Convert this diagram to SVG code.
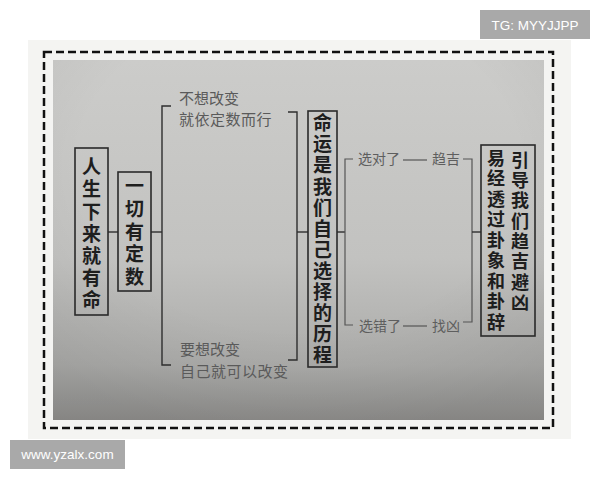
<svg xmlns="http://www.w3.org/2000/svg" width="600" height="480" viewBox="0 0 600 480">
<defs>
<linearGradient id="paper" x1="0" y1="0" x2="0" y2="1">
<stop offset="0" stop-color="#cccccA"/>
<stop offset="0.55" stop-color="#c2c2c0"/>
<stop offset="0.85" stop-color="#ababa9"/>
<stop offset="1" stop-color="#908f8d"/>
</linearGradient>
<radialGradient id="vig" cx="0.5" cy="0.3" r="0.75">
<stop offset="0.6" stop-color="#000" stop-opacity="0"/>
<stop offset="1" stop-color="#000" stop-opacity="0.07"/>
</radialGradient>
<style>
.box{fill:none;stroke:#2a2a2a;stroke-width:1.6}
.ln{fill:none;stroke:#2e2e2e;stroke-width:1.4}
.lt{fill:none;stroke:#555;stroke-width:1.2}
.v{writing-mode:vertical-rl;text-orientation:upright;font-family:"Noto Sans CJK SC","Noto Sans CJK JP",sans-serif;font-weight:700;fill:#1e1e1e}
.big{font-size:19px}
.mid{font-size:18px}
.sm{font-family:"Noto Sans CJK SC","Noto Sans CJK JP",sans-serif;font-size:15px;fill:#5a5a5a}
.xs{font-family:"Noto Sans CJK SC","Noto Sans CJK JP",sans-serif;font-size:14px;fill:#5e5e5e}
.wm{font-family:"Liberation Sans",Arial,sans-serif;font-size:13.5px;fill:#fff}
</style>
</defs>
<rect width="600" height="480" fill="#ffffff"/>
<rect x="28" y="40" width="543" height="399" fill="#f4f4f2"/>
<rect x="53" y="60" width="491" height="360" fill="url(#paper)"/>
<rect x="53" y="60" width="491" height="360" fill="url(#vig)"/>
<rect x="44" y="52" width="509" height="376" fill="none" stroke="#111" stroke-width="2.5" stroke-dasharray="8 4"/>

<g id="connectors">
<line class="ln" x1="108" y1="232" x2="118" y2="232"/>
<line class="ln" x1="151" y1="232" x2="162" y2="232"/>
<polyline class="ln" points="171,106 162,106 162,365 171,365"/>
<polyline class="ln" points="288,112 297,112 297,360 288,360"/>
<line class="ln" x1="297" y1="232" x2="308" y2="232"/>
<line class="ln" x1="337" y1="232" x2="345" y2="232"/>
<polyline class="lt" points="353,159 345,159 345,325 353,325"/>
<line class="lt" x1="403" y1="160" x2="427" y2="160"/>
<line class="lt" x1="403" y1="326" x2="427" y2="326"/>
<polyline class="lt" points="463,159 472,159 472,322 463,322"/>
<line class="ln" x1="472" y1="232" x2="481" y2="232"/>
</g>

<g id="n1">
<rect class="box" x="75" y="148" width="33" height="167"/>
<text class="v big" x="91.5" y="157.5" letter-spacing="3.2">人生下来就有命</text>
</g>
<g id="n2">
<rect class="box" x="118" y="172" width="33" height="119"/>
<text class="v big" x="134.5" y="176.5" letter-spacing="3.75">一切有定数</text>
</g>
<g id="n-upper">
<text class="sm" x="179" y="104">不想改变</text>
<text class="sm" x="179" y="125" letter-spacing="0.5">就依定数而行</text>
</g>
<g id="n-lower">
<text class="sm" x="180" y="355">要想改变</text>
<text class="sm" x="180" y="377" letter-spacing="0.5">自己就可以改变</text>
</g>
<g id="n3">
<rect class="box" x="308" y="111" width="29" height="256"/>
<text class="v big" x="322.5" y="113.5" letter-spacing="2.1">命运是我们自己选择的历程</text>
</g>
<g id="n-right">
<text class="xs" x="358" y="164">选对了</text>
<text class="xs" x="432" y="164">趋吉</text>
</g>
<g id="n-wrong">
<text class="xs" x="359" y="331">选错了</text>
<text class="xs" x="432" y="331">找凶</text>
</g>
<g id="n4">
<rect class="box" x="481" y="145" width="54" height="191"/>
<text class="v mid" x="520" y="151" letter-spacing="2.3">引导我们趋吉避凶</text>
<text class="v mid" x="496" y="149" letter-spacing="2.5">易经透过卦象和卦辞</text>
</g>

<g id="wm-top">
<rect x="480" y="10" width="110" height="29" fill="#a9a9a9"/>
<text class="wm" x="535" y="30" text-anchor="middle">TG: MYYJJPP</text>
</g>
<g id="wm-bottom">
<rect x="10" y="440" width="115" height="29" fill="#a9a9a9"/>
<text class="wm" x="67.5" y="459" text-anchor="middle">www.yzalx.com</text>
</g>
</svg>
